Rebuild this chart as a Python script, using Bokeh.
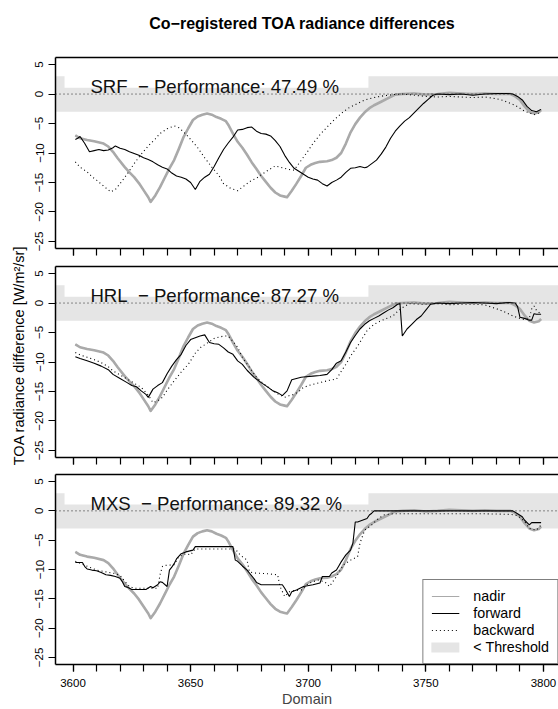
from bokeh.plotting import figure
from bokeh.models import (Range1d, FixedTicker, LinearAxis, BoxAnnotation, Span,
                          Label, Legend, LegendItem)
from bokeh.layouts import column, row
from bokeh.embed import file_html
from bokeh.resources import INLINE

FONT = "Liberation Sans"

# ---------------------------------------------------------------- data
# nadir reference curve (identical in every panel)
nadir_x = [3601, 3603, 3606, 3609, 3613, 3615, 3617, 3619, 3622, 3624, 3626, 3628, 3630,
           3632, 3633, 3635, 3637, 3639, 3641, 3643, 3645, 3647, 3649, 3651, 3653, 3655,
           3657, 3659, 3661, 3663, 3665, 3666, 3668, 3670, 3672, 3674, 3676, 3678, 3680,
           3682, 3684, 3686, 3688, 3690, 3691, 3693, 3695, 3697, 3699, 3701, 3703, 3705,
           3708, 3710, 3712, 3714, 3716, 3718, 3720, 3722, 3724, 3726, 3728, 3731, 3734,
           3737, 3740, 3745, 3750, 3755, 3760, 3765, 3770, 3775, 3780, 3786, 3788, 3790,
           3792, 3794, 3796, 3798, 3799]
nadir_y = [-7.0, -7.5, -7.8, -8.0, -8.4, -8.9, -9.8, -10.9, -12.4, -13.3, -14.1, -15.1, -16.3,
           -17.5, -18.3, -17.2, -15.8, -14.2, -12.6, -11.2, -9.3, -7.3, -5.8, -4.4, -3.8, -3.5,
           -3.3, -3.5, -3.9, -4.2, -4.6, -5.2, -6.7, -8.1, -9.1, -10.3, -11.6, -12.7, -13.9,
           -14.9, -15.9, -16.7, -17.2, -17.4, -17.5, -16.4, -15.2, -13.9, -12.5, -12.0, -11.7,
           -11.5, -11.4, -11.2, -10.8, -10.0, -8.4, -6.5, -5.1, -4.0, -3.1, -2.4, -1.9, -1.3,
           -0.7, -0.1, 0.0, 0.1, -0.1, 0.0, 0.2, 0.1, 0.0, 0.1, 0.0, 0.0, -0.4, -1.0,
           -2.1, -3.0, -3.3, -3.1, -2.7]

# SRF
srf_fwd_x = [3601, 3602, 3603, 3605, 3607, 3609, 3611, 3613, 3615, 3617, 3618, 3620, 3622,
             3624, 3626, 3628, 3630, 3632, 3634, 3636, 3638, 3640, 3642, 3644, 3646, 3648,
             3650, 3652, 3654, 3656, 3658, 3660, 3662, 3664, 3666, 3668, 3670, 3672, 3674,
             3676, 3678, 3680, 3682, 3684, 3686, 3688, 3690, 3692, 3694, 3696, 3698, 3700,
             3702, 3704, 3706, 3708, 3710, 3712, 3714, 3716, 3718, 3720, 3722, 3724, 3725,
             3727, 3729, 3731, 3733, 3735, 3737, 3739, 3741, 3743, 3745, 3747, 3749, 3751,
             3753, 3755, 3760, 3765, 3770, 3775, 3780, 3785, 3787, 3789, 3791, 3793, 3795,
             3797, 3799]
srf_fwd_y = [-7.7, -7.5, -7.2, -8.4, -9.8, -9.6, -9.4, -9.6, -9.5, -9.1, -8.8, -9.2, -9.4,
             -9.8, -10.1, -10.4, -10.8, -11.1, -11.5, -12.0, -12.4, -12.7, -13.4, -13.9, -14.1,
             -14.4, -15.0, -16.2, -14.8, -14.1, -13.6, -12.3, -10.8, -9.4, -8.3, -7.3, -6.1,
             -6.0, -5.7, -5.6, -6.3, -6.7, -6.8, -7.1, -7.9, -8.9, -10.4, -11.6, -12.6, -13.1,
             -13.6, -14.1, -14.4, -14.6, -15.2, -15.6, -15.0, -14.6, -14.1, -13.3, -12.6, -12.5,
             -12.3, -12.5, -12.4, -11.8, -11.2, -10.2, -9.0, -7.5, -6.3, -5.4, -4.6, -4.0,
             -3.2, -2.4, -1.6, -0.9, -0.2, 0.0, -0.1, 0.0, -0.2, 0.0, 0.1, 0.1, 0.0, -0.4,
             -1.0, -2.1, -2.8, -3.0, -2.6]
srf_bwd_x = [3601, 3603, 3606, 3608, 3610, 3613, 3616, 3618, 3620, 3623, 3626, 3629, 3632,
             3635, 3637, 3640, 3643, 3645, 3647, 3650, 3653, 3656, 3659, 3662, 3664, 3667,
             3670, 3672, 3674, 3676, 3678, 3680, 3683, 3686, 3689, 3692, 3694, 3696, 3698,
             3700, 3702, 3705, 3708, 3711, 3714, 3717, 3721, 3724, 3728, 3732, 3736, 3740,
             3745, 3750, 3755, 3760, 3765, 3770, 3775, 3780, 3783, 3786, 3788, 3790, 3792,
             3794, 3796, 3798, 3799]
srf_bwd_y = [-11.5, -12.4, -13.2, -14.0, -14.6, -15.6, -16.6, -16.2, -15.2, -13.6, -11.8,
             -10.2, -8.8, -7.6, -6.7, -5.9, -5.4, -5.7, -6.4, -7.7, -9.1, -10.8, -12.4, -13.8,
             -15.2, -16.0, -16.4, -15.8, -15.2, -14.6, -14.3, -13.7, -12.9, -12.2, -12.5,
             -12.8, -12.9, -11.8, -10.7, -9.6, -8.4, -6.9, -5.6, -4.4, -3.3, -2.4, -1.6, -1.0,
             -0.6, -0.3, -0.1, 0.0, -0.2, -0.4, -0.5, -0.4, -0.5, -0.6, -0.5, -0.8, -1.1,
             -1.6, -1.9, -2.4, -2.9, -3.2, -3.5, -3.2, -3.0]

# HRL
hrl_fwd_x = [3601, 3603, 3606, 3609, 3612, 3615, 3617, 3620, 3623, 3625, 3627, 3629, 3631,
             3632, 3634, 3636, 3638, 3640, 3642, 3644, 3646, 3648, 3650, 3652, 3654, 3656,
             3658, 3660, 3662, 3664, 3666, 3668, 3670, 3672, 3674, 3677, 3680, 3683, 3685,
             3687, 3689, 3691, 3693, 3695, 3697, 3699, 3702, 3705, 3708, 3710, 3712, 3714,
             3716, 3718, 3720, 3722, 3724, 3726, 3728, 3730, 3732, 3734, 3736, 3738, 3739,
             3740, 3742, 3744, 3746, 3748, 3750, 3752, 3755, 3760, 3765, 3770, 3775, 3780,
             3785, 3788, 3789, 3790, 3792, 3794, 3795, 3796, 3797, 3799]
hrl_fwd_y = [-9.1, -9.4, -9.8, -10.2, -10.7, -11.3, -12.1, -12.8, -13.5, -14.0, -14.2, -14.9,
             -15.5, -16.0, -14.6, -14.0, -13.5, -12.0, -10.7, -9.6, -8.7, -7.2, -6.2, -5.9,
             -5.6, -5.4, -6.7, -6.9, -7.0, -7.6, -8.3, -8.7, -9.8, -10.4, -11.4, -12.6, -13.5,
             -14.3, -14.9, -15.2, -15.7, -14.9, -13.0, -12.8, -12.6, -12.5, -12.4, -12.3,
             -12.1, -11.3, -10.2, -9.8, -8.3, -6.7, -5.5, -4.4, -3.6, -3.0, -2.6, -2.2, -1.7,
             -1.2, -0.8, -0.2, -0.1, -5.6, -4.4, -3.6, -2.8, -2.2, -1.2, -0.2, 0.0, -0.1, 0.0,
             0.1, 0.0, -0.1, 0.1, 0.0, -0.6, -2.4, -2.6, -2.9, -2.9, -1.8, -1.9, -1.9]
hrl_bwd_x = [3601, 3603, 3606, 3609, 3612, 3615, 3617, 3620, 3623, 3626, 3629, 3632, 3634,
             3636, 3638, 3640, 3643, 3646, 3649, 3652, 3654, 3657, 3660, 3662, 3664, 3666,
             3668, 3670, 3672, 3675, 3678, 3681, 3684, 3687, 3690, 3692, 3694, 3696, 3698,
             3701, 3705, 3709, 3712, 3714, 3716, 3718, 3721, 3723, 3725, 3728, 3731, 3734,
             3736, 3738, 3740, 3743, 3748, 3755, 3760, 3765, 3770, 3775, 3778, 3781, 3784,
             3787, 3790, 3792, 3794, 3795, 3796, 3797, 3799]
hrl_bwd_y = [-8.4, -8.8, -9.2, -9.6, -10.1, -10.8, -11.5, -12.2, -12.9, -13.6, -14.3, -15.6,
             -16.9, -16.6, -16.0, -14.8, -13.2, -11.7, -10.4, -8.5, -7.6, -6.8, -6.0, -5.8,
             -5.6, -5.6, -6.5, -7.5, -9.2, -10.9, -12.6, -13.7, -14.6, -15.4, -16.0, -15.7,
             -15.5, -15.0, -14.3, -13.9, -13.5, -13.1, -12.9, -11.6, -10.4, -9.0, -7.3, -6.0,
             -4.7, -3.6, -3.0, -2.5, -2.2, -1.4, -0.8, -0.1, -0.2, -0.1, -0.3, -0.2, -0.2,
             -0.3, -0.7, -1.1, -1.6, -2.2, -2.6, -2.8, -2.6, -1.0, -0.5, -1.2, -1.9]

# MXS
mxs_fwd_x = [3601, 3604, 3605, 3606, 3608, 3610, 3612, 3614, 3616, 3618, 3620, 3621, 3622,
             3623, 3625, 3626, 3631, 3633, 3634, 3636, 3637, 3638, 3640, 3641, 3642, 3643,
             3644, 3646, 3648, 3651, 3652, 3660, 3668, 3669, 3670, 3671, 3672, 3674, 3675,
             3677, 3678, 3680, 3684, 3689, 3690, 3692, 3693, 3695, 3698, 3702, 3705, 3706,
             3709, 3710, 3712, 3713, 3714, 3716, 3718, 3719, 3720, 3721, 3723, 3725, 3726,
             3727, 3728, 3735, 3745, 3755, 3765, 3775, 3787, 3789, 3791, 3792, 3794, 3795,
             3797, 3799]
mxs_fwd_y = [-8.8, -8.8, -9.5, -9.9, -10.1, -10.2, -10.5, -10.9, -11.0, -11.2, -11.5, -12.1,
             -12.9, -13.0, -13.4, -13.4, -13.4, -12.9, -13.1, -12.6, -12.1, -12.2, -12.9,
             -10.1, -9.6, -9.0, -8.2, -7.3, -7.0, -6.7, -6.1, -6.1, -6.1, -8.4, -8.6, -9.0,
             -9.4, -10.1, -10.6, -11.6, -12.2, -12.6, -12.6, -12.6, -13.2, -14.6, -13.8,
             -13.5, -12.9, -12.6, -12.3, -11.2, -11.2, -10.6, -10.1, -9.4, -8.7, -7.5, -6.7,
             -5.5, -1.9, -1.9, -1.6, -1.3, -0.7, -0.4, 0.0, 0.0, 0.0, 0.0, 0.0, 0.0, 0.0,
             -0.5, -1.0, -1.6, -2.4, -2.0, -2.0, -2.0]
mxs_bwd_x = [3601, 3604, 3607, 3610, 3614, 3618, 3620, 3622, 3624, 3626, 3629, 3632, 3636,
             3637, 3638, 3639, 3643, 3645, 3648, 3650, 3652, 3660, 3669, 3671, 3674, 3675,
             3677, 3682, 3687, 3688, 3690, 3692, 3694, 3697, 3700, 3704, 3707, 3709, 3712,
             3715, 3718, 3721, 3722, 3724, 3727, 3729, 3732, 3736, 3745, 3755, 3765, 3775,
             3786, 3789, 3792, 3794, 3797, 3799]
mxs_bwd_y = [-8.6, -9.1, -9.6, -10.1, -10.4, -10.7, -11.0, -12.0, -12.9, -13.2, -13.2, -13.2,
             -13.2, -10.9, -9.5, -9.3, -9.2, -7.8, -7.3, -7.5, -6.5, -6.5, -6.5, -7.5, -8.4,
             -10.4, -10.6, -10.7, -10.9, -12.9, -14.6, -13.8, -13.6, -13.5, -12.4, -11.8,
             -12.1, -12.9, -11.2, -9.2, -8.4, -7.8, -5.5, -3.3, -2.4, -1.6, -0.7, -0.5, -0.5,
             -0.5, -0.5, -0.5, -0.6, -0.8, -1.8, -3.0, -3.3, -2.4]

sensors = ["SRF", "HRL", "MXS"]
performance = [47.49, 87.27, 89.32]
forward_x = [srf_fwd_x, hrl_fwd_x, mxs_fwd_x]
forward_y = [srf_fwd_y, hrl_fwd_y, mxs_fwd_y]
backward_x = [srf_bwd_x, hrl_bwd_x, mxs_bwd_x]
backward_y = [srf_bwd_y, hrl_bwd_y, mxs_bwd_y]

threshold = 3.0
x_major = [3600, 3650, 3700, 3750, 3800]
x_minor = list(range(3600, 3801, 10))
y_ticks = [-25, -20, -15, -10, -5, 0, 5]

# ---------------------------------------------------------------- styling
X0, X1 = 3592.56, 3806.4
Y0, Y1 = -26.2, 6.2
NADIR_COLOR = "#AAAAAA"
BAND_COLOR = "#E5E5E5"
YLAB_W = 28
PANEL_W = 530
FRAME_H = 191
TITLE_H = 48
borders = [(9, 9), (9, 8), (9, 44)]   # (top, bottom) per panel


def minus(v):
    return ("\u2212" + str(abs(v))) if v < 0 else str(v)


def strip(width, height):
    """Blank figure used to hold free text."""
    f = figure(width=width, height=height, x_range=Range1d(0, width),
               y_range=Range1d(0, height), x_axis_type=None, y_axis_type=None,
               title=None, min_border=0, output_backend="svg", toolbar_location=None)
    f.outline_line_color = None
    return f


def make_panel(i):
    top, bottom = borders[i]
    p = figure(width=PANEL_W, height=top + FRAME_H + bottom,
               x_range=Range1d(X0, X1), y_range=Range1d(Y0, Y1),
               x_axis_type=None, y_axis_type=None, title=None,
               output_backend="svg", toolbar_location=None,
               min_border_left=27, min_border_right=0,
               min_border_top=top, min_border_bottom=bottom)
    p.outline_line_color = None
    p.background_fill_color = "white"
    p.border_fill_color = "white"

    # y axis
    yax = LinearAxis(ticker=FixedTicker(ticks=y_ticks),
                     major_label_overrides={float(t): minus(t) for t in y_ticks},
                     major_label_orientation="parallel")
    yax.major_label_text_font = FONT
    yax.major_label_text_font_size = "11.5px"
    yax.major_label_text_color = "black"
    yax.major_label_standoff = 5
    yax.major_tick_out = 7
    yax.major_tick_in = 0
    yax.minor_tick_out = 0
    yax.minor_tick_in = 0
    yax.axis_line_width = 1.5
    yax.major_tick_line_width = 1.2
    p.add_layout(yax, "left")

    # x axis
    xax = LinearAxis(ticker=FixedTicker(ticks=x_major, minor_ticks=x_minor))
    xax.major_tick_out = 7
    xax.major_tick_in = 0
    xax.minor_tick_out = 7
    xax.minor_tick_in = 0
    xax.major_tick_line_width = 1.2
    xax.minor_tick_line_width = 1.2
    xax.minor_tick_line_color = "black"
    xax.axis_line_width = 1.5
    xax.major_label_text_font = FONT
    if i == 2:
        xax.major_label_text_font_size = "11.5px"
        xax.major_label_text_color = "black"
        xax.major_label_standoff = 7
        xax.axis_label = "Domain"
        xax.axis_label_text_font = FONT
        xax.axis_label_text_font_size = "14.5px"
        xax.axis_label_text_font_style = "normal"
        xax.axis_label_standoff = 1
    else:
        xax.major_label_text_font_size = "0px"
        xax.major_label_text_alpha = 0
        xax.major_label_standoff = 0
    p.add_layout(xax, "below")

    # top border of the frame
    tax = LinearAxis(ticker=FixedTicker(ticks=[]))
    tax.major_tick_out = 0
    tax.major_tick_in = 0
    tax.minor_tick_out = 0
    tax.minor_tick_in = 0
    tax.major_label_text_font_size = "0px"
    tax.major_label_standoff = 0
    tax.axis_line_width = 1.5
    p.add_layout(tax, "above")

    # threshold band and the white area behind the panel label
    p.add_layout(BoxAnnotation(bottom=-threshold, top=threshold, fill_color=BAND_COLOR,
                               fill_alpha=1.0, line_color=None, level="underlay"))
    p.add_layout(BoxAnnotation(left=3596.4, right=3725.6, bottom=1.07, fill_color="white",
                               fill_alpha=1.0, line_color=None, level="underlay"))

    # centre line of the band, in band colour (carries the legend swatch)
    band = p.line([X0, X1], [0, 0], line_color=BAND_COLOR, line_width=10,
                  line_cap="round")
    p.add_layout(Span(location=0, dimension="width", line_color="#222222",
                      line_width=1, line_dash="1 3"))

    p.line(nadir_x, nadir_y, line_color=NADIR_COLOR, line_width=2.6, line_join="round")
    # thin trace over the nadir curve, used for the legend swatch
    r_n = p.line(nadir_x, nadir_y, line_color=NADIR_COLOR, line_width=1.2)
    r_f = p.line(forward_x[i], forward_y[i], line_color="black", line_width=1.1)
    r_b = p.line(backward_x[i], backward_y[i], line_color="black", line_width=1.1,
                 line_dash="1 3")

    p.add_layout(Label(x=3607.4, y=1.3,
                       text=f"{sensors[i]}\u00a0 \u2212 Performance: {performance[i]:.2f} %",
                       text_font=FONT, text_font_size="18.6px", text_color="#111111",
                       text_baseline="alphabetic", text_align="left"))
    return p, (r_n, r_f, r_b, band)


built = [make_panel(i) for i in range(3)]
panels = [b[0] for b in built]

# legend in the bottom panel
r_n, r_f, r_b, band = built[2][1]
legend = Legend(items=[LegendItem(label="nadir", renderers=[r_n]),
                       LegendItem(label="forward", renderers=[r_f]),
                       LegendItem(label="backward", renderers=[r_b]),
                       LegendItem(label="< Threshold", renderers=[band])],
                location="bottom_right", margin=0, padding=8, spacing=1,
                glyph_width=28, glyph_height=16, label_height=16, label_standoff=14,
                border_line_color="black", border_line_width=1,
                background_fill_color="white", background_fill_alpha=1.0,
                label_text_font=FONT, label_text_font_size="14.3px",
                label_text_color="black")
panels[2].add_layout(legend, "center")

# main title
title_fig = strip(PANEL_W, TITLE_H)
title_fig.add_layout(Label(x=260, y=TITLE_H - 23,
                           text="Co\u2212registered TOA radiance differences",
                           text_font=FONT, text_font_size="16px", text_font_style="bold",
                           text_color="black", text_align="center", text_baseline="middle"))

# shared y-axis title
ylab = strip(YLAB_W, 709)
ylab.add_layout(Label(x=18, y=354, text="TOA radiance difference [W/m\u00b2/sr]",
                      angle=90, angle_units="deg", text_font=FONT,
                      text_font_size="14.5px", text_color="black",
                      text_align="center", text_baseline="middle"))

layout = row(ylab, column(title_fig, *panels, spacing=0), spacing=0)

with open("out.html", "w", encoding="utf-8") as f:
    f.write(file_html(layout, INLINE))
